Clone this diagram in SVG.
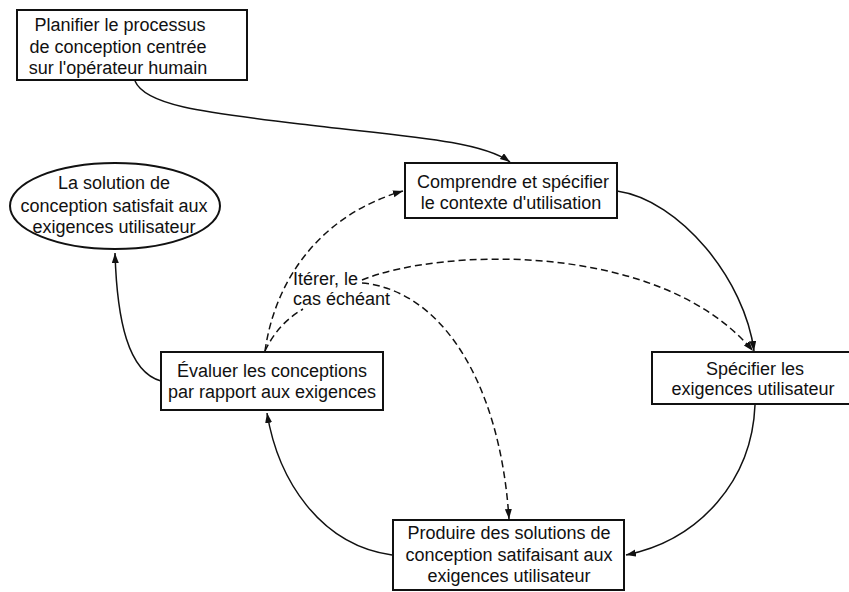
<svg xmlns="http://www.w3.org/2000/svg" width="849" height="592" viewBox="0 0 849 592">
<style>
.box{fill:#fff;stroke:#111;stroke-width:2}
.t{font-family:"Liberation Sans",Arial,sans-serif;font-size:18px;fill:#111;text-anchor:middle}
.lbl{font-family:"Liberation Sans",Arial,sans-serif;font-size:18px;fill:#111}
.c{fill:none;stroke:#111;stroke-width:1.5}
.d{stroke-dasharray:7,4}
</style>
<defs>
<marker id="ah" markerUnits="userSpaceOnUse" markerWidth="11" markerHeight="8" refX="10" refY="3.5" orient="auto">
<path d="M0,0 L10,3.5 L0,7 z" fill="#111"/>
</marker>
</defs>
<rect width="849" height="592" fill="#fff"/>
<g id="connectors">
<path class="c" d="M135,81 C145,105 200,112 300,124 C400,136 480,140 510,162" marker-end="url(#ah)"/>
<path class="c" d="M617,191 C680,200 745,280 754,351" marker-end="url(#ah)"/>
<path class="c" d="M755,405 C752,480 700,540 626,555" marker-end="url(#ah)"/>
<path class="c" d="M392,555 C320,545 278,480 267,413" marker-end="url(#ah)"/>
<path class="c" d="M161,381 C128,372 117,320 115,253" marker-end="url(#ah)"/>
<path class="c d" d="M265,351 C275,280 320,215 403,191" marker-end="url(#ah)"/>
<path class="c d" d="M265,351 C275,330 288,318 303,309"/>
<path class="c d" d="M362,280 C440,248 660,240 753,351" marker-end="url(#ah)"/>
<path class="c d" d="M362,283 C440,290 500,380 509,519" marker-end="url(#ah)"/>
</g>
<g id="planifier">
<rect class="box" x="17" y="10" width="230" height="70"/>
<text class="t" x="120" y="31">Planifier le processus</text>
<text class="t" x="118" y="53">de conception centrée</text>
<text class="t" x="118" y="74">sur l'opérateur humain</text>
</g>
<g id="comprendre">
<rect class="box" x="405" y="163" width="212" height="55"/>
<text class="t" x="513" y="188">Comprendre et spécifier</text>
<text class="t" x="511" y="209">le contexte d'utilisation</text>
</g>
<g id="solution">
<ellipse class="box" cx="115" cy="206" rx="105" ry="43"/>
<text class="t" x="114" y="189">La solution de</text>
<text class="t" x="114" y="212">conception satisfait aux</text>
<text class="t" x="114" y="233">exigences utilisateur</text>
</g>
<g id="evaluer">
<rect class="box" x="161" y="352" width="222" height="58"/>
<text class="t" x="272" y="377">Évaluer les conceptions</text>
<text class="t" x="272" y="398">par rapport aux exigences</text>
</g>
<g id="specifier">
<rect class="box" x="652" y="352" width="210" height="52"/>
<text class="t" x="755" y="375">Spécifier les</text>
<text class="t" x="753" y="395">exigences utilisateur</text>
</g>
<g id="produire">
<rect class="box" x="393" y="520" width="231" height="70"/>
<text class="t" x="509" y="539">Produire des solutions de</text>
<text class="t" x="509" y="561">conception satifaisant aux</text>
<text class="t" x="509" y="582">exigences utilisateur</text>
</g>
<g id="iterer">
<text class="lbl" x="293" y="285">Itérer, le</text>
<text class="lbl" x="293" y="305">cas échéant</text>
</g>
</svg>
